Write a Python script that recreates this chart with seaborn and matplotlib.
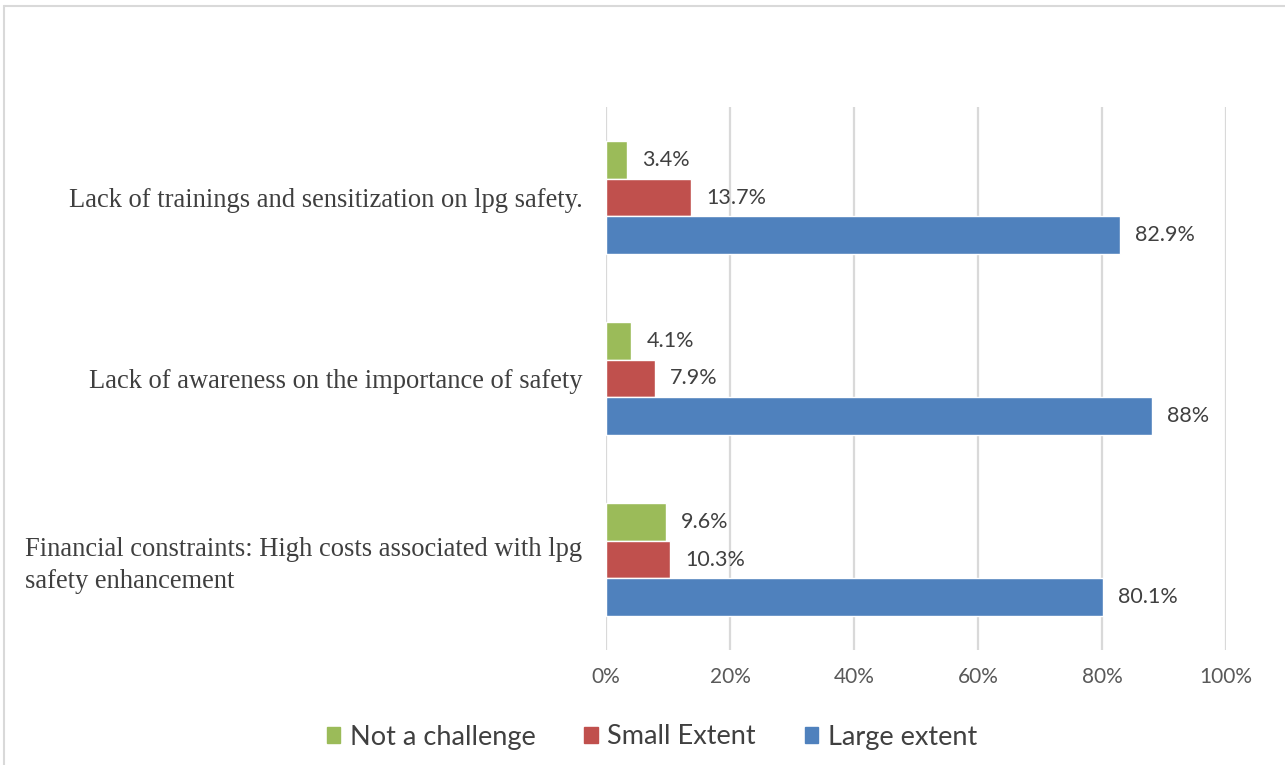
import matplotlib
matplotlib.use("Agg")
import matplotlib.pyplot as plt
from matplotlib.lines import Line2D
import seaborn as sns
import pandas as pd

# Survey results: challenges to LPG safety
challenges = [
    "Lack of trainings and sensitization on lpg safety.",
    "Lack of awareness on the importance of safety",
    "Financial constraints: High costs associated with lpg\nsafety enhancement",
]
levels = ["Not a challenge", "Small Extent", "Large extent"]
not_a_challenge = [3.4, 4.1, 9.6]
small_extent = [13.7, 7.9, 10.3]
large_extent = [82.9, 88.0, 80.1]
x_ticks = [0, 20, 40, 60, 80, 100]
x_tick_labels = ["0%", "20%", "40%", "60%", "80%", "100%"]

palette = {"Not a challenge": "#9BBB59", "Small Extent": "#C0504D", "Large extent": "#4F81BD"}

rows = []
for series, vals in zip(levels, [not_a_challenge, small_extent, large_extent]):
    for cat, v in zip(challenges, vals):
        rows.append({"challenge": cat, "level": series, "pct": v})
df = pd.DataFrame(rows)

sns.set_style("white")
plt.rcParams["font.family"] = ["Lato", "DejaVu Sans"]

fig = plt.figure(figsize=(12.85, 7.65), dpi=100)
ax = fig.add_axes([606 / 1285, 1 - 650 / 765, 620 / 1285, 543 / 765])

sns.barplot(data=df, y="challenge", x="pct", hue="level", order=challenges,
            hue_order=levels, palette=palette, orient="h", width=0.62,
            saturation=1, ax=ax, legend=False, errorbar=None, zorder=3)

for container in ax.containers:
    vals = [bar.get_width() for bar in container]
    ax.bar_label(container, labels=[f"{v:g}%" for v in vals], padding=11,
                 fontsize=15.5, color="#404040")

ax.set_xlim(0, 100)
ax.set_xticks(x_ticks)
ax.set_xticklabels(x_tick_labels)
ax.grid(axis="x", color="#D9D9D9", linewidth=1.6, zorder=0)
ax.grid(axis="y", visible=False)
for s in ax.spines.values():
    s.set_visible(False)
ax.set_xlabel("")
ax.set_ylabel("")
ax.tick_params(axis="x", length=0, pad=12, labelsize=15, labelcolor="#595959")
ax.tick_params(axis="y", length=0, pad=17)
for lbl in ax.get_yticklabels():
    lbl.set_fontfamily("Liberation Serif")
    lbl.set_fontsize(19.1)
    lbl.set_color("#3F3F3F")
    lbl.set_multialignment("left")
    lbl.set_linespacing(1.35)

handles = [plt.Rectangle((0, 0), 1, 1, color=palette[l]) for l in levels]
fig.legend(handles, levels, loc="center", bbox_to_anchor=(652 / 1285, 1 - 737 / 765),
           ncol=3, frameon=False, fontsize=19.5, handlelength=0.5, handleheight=0.5,
           handletextpad=0.35, columnspacing=1.8, labelcolor="#404040")

# Outer chart frame
fig.add_artist(Line2D([3.5 / 1285, 1.0], [1 - 5.5 / 765] * 2, color="#D9D9D9", linewidth=1.5))
fig.add_artist(Line2D([3.5 / 1285] * 2, [0.0, 1 - 5.5 / 765], color="#D9D9D9", linewidth=1.5))

fig.savefig("out.png", dpi=100, facecolor="white")
